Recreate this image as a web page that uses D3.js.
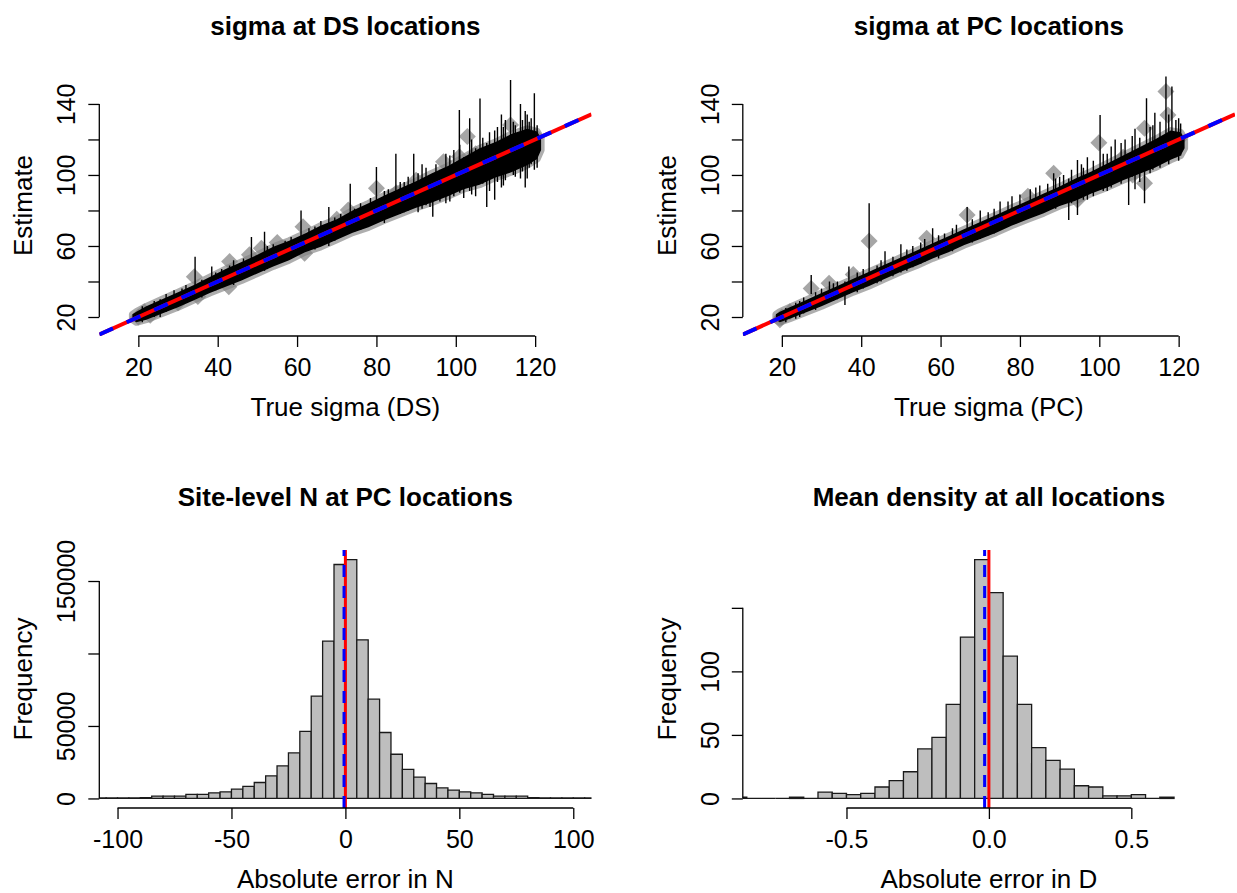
<!DOCTYPE html>
<html>
<head>
<meta charset="utf-8">
<script src="https://cdnjs.cloudflare.com/ajax/libs/d3/7.8.5/d3.min.js"></script>
<style>
  body { margin: 0; background: #fff; }
  svg { display: block; }
</style>
</head>
<body>
<svg id="chart" width="1237" height="893"></svg>
<script>
// values

// sigma at DS locations: dense band of CIs (envelope), long CI spikes, outlying point estimates
var dsBandX  = [18.5, 19.5, 22, 26, 30, 34, 38, 42, 46, 50, 54, 58, 62, 66, 70, 74, 78, 82, 86, 90, 94, 98, 102, 106, 110, 114, 118, 120.5, 121.5];
var dsBandLo = [18.5, 17, 18.5, 22, 25.5, 29.5, 33.5, 37, 40.5, 44.5, 48.5, 52, 56.5, 59.5, 63.5, 67.5, 70.5, 74.5, 78, 81.5, 84.5, 88, 92, 94.5, 98.5, 101.5, 105.5, 109, 114];
var dsBandHi = [21.5, 23, 26, 30, 34, 38, 42.5, 47, 51, 55, 59.5, 63, 67, 71.5, 75, 80, 84, 88.5, 92.5, 96.5, 101, 105, 110, 115, 118.5, 123, 126, 124.5, 120.5];
var dsSpikeX  = [21, 24, 27, 29, 32, 34.3, 36, 38.5, 41, 44, 46.5, 48.5, 51.8, 54, 57, 61, 63, 66, 68, 71, 73.4, 76, 80, 82, 84.9, 87, 89.4, 91.5, 94.2, 96, 97.5, 100.9, 102, 103.5, 105, 106.1, 107.8, 109.8, 111.5, 112.5, 113.8, 115, 116.3, 117.5, 118.5, 119.8,
                 86, 88, 90.5, 92.5, 93.5, 95, 98.5, 99.5, 101, 104, 106.8, 108.5, 110.5, 112, 114.5, 116.8, 118, 119, 120.5, 25.5, 31, 39.5, 43, 52.5, 58.5, 64.5, 69.5, 74.5, 78.5, 83];
var dsSpikeLo = [17, 20, 23, 25, 28, 38, 31, 36, 37, 38, 42, 44, 46, 49, 52, 56, 58, 61, 60, 65, 68, 69, 74, 73, 78, 79, 82, 81, 76.5, 85, 84, 92, 87, 91, 88, 96, 82, 86, 93, 97, 105, 99, 98, 93, 104, 103,
                 78, 80, 79, 83, 82, 86, 85, 88, 90, 89, 95, 91, 96, 94, 100, 102, 98, 106, 104, 20, 27, 35, 39, 47, 53, 58, 63, 68, 72, 76];
var dsSpikeHi = [26, 29, 33, 35, 38, 54, 41, 48.5, 47, 52, 53, 65, 68, 61, 63, 80, 70, 74, 82, 78, 95, 84, 104.5, 91, 112, 96, 112, 106, 100, 103, 112, 136.6, 110, 132, 115, 143, 118, 125, 134, 131, 153.5, 128, 140, 136, 130, 146,
                 96, 99, 101, 104, 99, 106, 111, 114, 117, 120, 121, 124, 127, 127, 130, 131, 134, 132, 128, 30, 36, 45, 49, 60, 65, 71, 76, 81, 87, 92];
var dsPtX = [20, 21.5, 23, 30, 34.1, 35, 42.8, 43, 48, 51, 55, 61.5, 61.9, 70, 72.9, 80, 85, 90, 96.9, 100.9, 102.9, 105, 111.3, 113.8, 115, 118, 120];
var dsPtY = [20, 23, 21, 28, 42.7, 31.5, 37, 51.2, 55, 58.7, 62, 70.9, 55.9, 75, 80.3, 92.5, 90, 97, 107.5, 110.3, 121.6, 112, 102.8, 128.2, 108, 118, 122];
var dsFit = [0, 1];   // intercept, slope of the blue dashed line

// sigma at PC locations
var pcBandX  = [18.5, 19.5, 22, 26, 30, 34, 38, 42, 46, 50, 54, 58, 62, 66, 70, 74, 78, 82, 86, 90, 94, 98, 102, 106, 110, 114, 118, 120.5, 121.5];
var pcBandLo = [18.5, 17, 19, 22.5, 26, 30, 34, 37.5, 41.5, 45.5, 49, 53, 56.5, 60.5, 64, 67.5, 71.5, 75, 78.5, 82.5, 85.5, 89.5, 93, 97, 100.5, 104, 108.5, 111, 115];
var pcBandHi = [21.5, 23, 25.5, 29.5, 33.5, 37.5, 41.5, 45.5, 49.5, 53.5, 57.5, 61.5, 65.5, 69.5, 73.5, 77.5, 81.5, 85.5, 89.5, 93.5, 98, 102, 106.5, 111, 115.5, 120, 125, 124, 120.5];
var pcSpikeX  = [21, 23.5, 25.5, 27.4, 30, 32, 34, 35.9, 36.9, 39, 42, 44, 46, 48, 50, 53, 56, 58, 61, 64, 66.7, 70, 72, 75, 78, 80, 82.6, 85, 88.5, 90, 92.3, 94.5, 96, 97, 100.2, 102, 104, 107.4, 109, 111.4, 111.9, 114, 116.8, 118.3, 120,
                 84, 87, 89, 91, 93, 95.5, 98.5, 101, 103, 105.5, 106.5, 108.3, 110.2, 112.8, 113.5, 115.3, 117.5, 119.3, 120.5, 24.5, 28.5, 33, 40.5, 45, 51.5, 55, 59.5, 63, 68, 73.5, 77];
var pcSpikeLo = [17, 19, 22, 33, 27, 29, 30, 26.8, 33, 34, 42.7, 39, 42, 43, 45, 48, 51, 54, 56, 60, 70, 64, 66, 70, 72, 74, 78, 78, 82, 83, 74.6, 77.5, 86, 86, 95, 91, 96, 83.1, 92, 84, 104, 105, 112, 110, 108,
                 77, 80, 81, 85, 84, 87, 88, 91, 93, 95, 98, 99, 96, 101, 103, 104, 106, 110, 111, 20, 24, 29, 36, 40, 46, 50, 53, 57, 62, 67, 71];
var pcSpikeHi = [25, 28, 31, 43.7, 36, 40, 40, 40, 48.4, 45, 84, 49, 57, 54, 61, 60, 64, 70, 67, 72, 82, 80, 79, 85, 88, 89, 92, 94, 101, 99, 98, 108.4, 104, 110, 133.8, 112, 120, 112, 126, 115, 143.2, 135, 155.4, 149.8, 132,
                 93, 95, 98, 100, 103, 106, 108, 112, 116, 118, 120, 122, 121, 127, 128, 130, 134, 131, 129, 29, 34, 39, 47, 52, 58, 62, 66, 70, 75, 81, 85];
var pcPtX = [19.5, 20, 22, 27.4, 31.9, 38, 42, 56.5, 66.7, 82, 88.5, 94.5, 99.9, 106, 108.4, 111.4, 111.4, 114, 116.8, 117.3, 120];
var pcPtY = [18.5, 20, 23, 36.1, 39, 44, 62.8, 64.3, 77.5, 88, 101, 85.9, 118.2, 110, 100, 126.3, 95.3, 113, 147, 133.8, 120];
var pcFit = [0, 1];

// site-level N: histogram of absolute error
var nBreaks = [-110, -105, -100, -95, -90, -85, -80, -75, -70, -65, -60, -55, -50, -45, -40, -35, -30, -25, -20, -15, -10, -5, 0,
               5, 10, 15, 20, 25, 30, 35, 40, 45, 50, 55, 60, 65, 70, 75, 80, 85, 90, 95, 100, 105, 110];
var nCounts = [300, 300, 350, 400, 500, 1600, 1600, 1600, 2800, 2800, 3900, 4600, 6400, 8300, 11000, 15600, 22500, 31400, 46200, 70600, 108500, 161400,
               164800, 109400, 68500, 45500, 30500, 20000, 14700, 10300, 7300, 5700, 4600, 3900, 2800, 1600, 1600, 1600, 500, 400, 350, 300, 300, 300];
var nMeanErr = -0.6;

// mean density: histogram of absolute error
var dBreaks = [-0.9, -0.85, -0.8, -0.75, -0.7, -0.65, -0.6, -0.55, -0.5, -0.45, -0.4, -0.35, -0.3, -0.25, -0.2, -0.15, -0.1, -0.05, 0,
               0.05, 0.1, 0.15, 0.2, 0.25, 0.3, 0.35, 0.4, 0.45, 0.5, 0.55, 0.6, 0.65];
var dCounts = [1, 0, 0, 0, 1, 0, 5, 4, 3, 4, 9, 14, 21, 39, 48, 74, 127, 188,
               162, 112, 74, 40, 30, 23, 10, 9, 2, 2, 3, 0, 1];
var dMeanErr = -0.015;

// axis ticks and labels (R drops some labels where they would crowd)
var sigmaXTicks = [20, 40, 60, 80, 100, 120];
var sigmaYTicks = [20, 40, 60, 80, 100, 120, 140];
var sigmaYLabels = ["20", "", "60", "", "100", "", "140"];
var nXTicks = [-100, -50, 0, 50, 100];
var nXLabels = ["-100", "-50", "0", "50", "100"];
var nYTicks = [0, 50000, 100000, 150000];
var nYLabels = ["0", "50000", "", "150000"];
var dXTicks = [-0.5, 0, 0.5];
var dXLabels = ["-0.5", "0.0", "0.5"];
var dYTicks = [0, 50, 100, 150];
var dYLabels = ["0", "50", "100", ""];

var FONT = "'Liberation Sans', Arial, Helvetica, sans-serif";

var svg = d3.select("#chart");
var defs = svg.append("defs");

function clipFor(name, p) {
    defs.append("clipPath").attr("id", name)
      .append("rect")
        .attr("x", p.left).attr("y", p.top)
        .attr("width", p.right - p.left).attr("height", p.bottom - p.top);
    return "url(#" + name + ")";
}

function xAxis(x, p, ticks, labels, title) {
    var g = svg.append("g").attr("transform", "translate(0," + p.bottom + ")");
    g.call(d3.axisBottom(x).tickValues(ticks).tickSizeInner(11).tickSizeOuter(0)
        .tickFormat(function(d, i) { return labels[i]; }));
    g.attr("font-family", FONT).attr("font-size", 25);
    g.select(".domain").remove();
    g.append("line")
        .attr("x1", x(ticks[0])).attr("x2", x(ticks[ticks.length - 1]))
        .attr("stroke", "#000").attr("stroke-width", 1.3);
    g.selectAll(".tick line").attr("stroke", "#000").attr("stroke-width", 1.3);
    g.selectAll(".tick text").attr("y", 40).attr("dy", null).attr("fill", "#000");

    svg.append("text")
        .attr("x", (p.left + p.right) / 2).attr("y", p.bottom + 80)
        .attr("text-anchor", "middle")
        .attr("font-family", FONT).attr("font-size", 26)
        .text(title);
}

function yAxis(y, p, ticks, labels, title) {
    var g = svg.append("g").attr("transform", "translate(" + p.left + ",0)");
    g.call(d3.axisLeft(y).tickValues(ticks).tickSizeInner(11).tickSizeOuter(0)
        .tickFormat(function(d, i) { return labels[i]; }));
    g.attr("font-family", FONT).attr("font-size", 25);
    g.select(".domain").remove();
    g.append("line")
        .attr("y1", y(ticks[0])).attr("y2", y(ticks[ticks.length - 1]))
        .attr("stroke", "#000").attr("stroke-width", 1.3);
    g.selectAll(".tick line").attr("stroke", "#000").attr("stroke-width", 1.3);
    g.selectAll(".tick text")
        .attr("x", null).attr("dy", null)
        .attr("transform", "translate(-24,0) rotate(-90)")
        .attr("text-anchor", "middle")
        .attr("fill", "#000");

    svg.append("text")
        .attr("transform", "translate(" + (p.left - 67) + "," + ((p.top + p.bottom) / 2) + ") rotate(-90)")
        .attr("text-anchor", "middle")
        .attr("font-family", FONT).attr("font-size", 26)
        .text(title);
}

function mainTitle(p, yPos, txt) {
    svg.append("text")
        .attr("x", (p.left + p.right) / 2).attr("y", yPos)
        .attr("text-anchor", "middle")
        .attr("font-family", FONT).attr("font-size", 26).attr("font-weight", "bold")
        .text(txt);
}

// scatter of estimate vs truth, with CIs
function sigmaPanel(p, d) {
    var x = d3.scaleLinear().domain([10.16, 134.2]).range([p.left, p.right]);
    var y = d3.scaleLinear().domain([9.3, 156.3]).range([p.bottom, p.top]);
    var plot = svg.append("g").attr("clip-path", clipFor(p.id, p));

    var band = d.bandX.map(function(v, i) { return { x: v, lo: d.bandLo[i], hi: d.bandHi[i] }; });
    var area = d3.area()
        .x(function(b) { return x(b.x); })
        .y0(function(b) { return y(b.lo); })
        .y1(function(b) { return y(b.hi); });

    // faint grey rim from the overlapping diamonds along the band
    plot.append("path").datum(band)
        .attr("d", area)
        .attr("fill", "none")
        .attr("stroke", "rgba(120,120,120,0.6)")
        .attr("stroke-width", 7)
        .attr("stroke-linejoin", "round");

    plot.selectAll(".pt")
        .data(d.ptX.map(function(v, i) { return [v, d.ptY[i]]; }))
        .enter().append("path")
        .attr("class", "pt")
        .attr("transform", function(q) { return "translate(" + x(q[0]) + "," + y(q[1]) + ")"; })
        .attr("d", "M0,-8.5L8.5,0L0,8.5L-8.5,0Z")
        .attr("fill", "rgba(128,128,128,0.7)");

    // the CIs are so dense they merge into a solid band
    plot.append("path").datum(band)
        .attr("d", area)
        .attr("fill", "#000");

    plot.selectAll(".ci")
        .data(d.spikeX.map(function(v, i) { return [v, d.spikeLo[i], d.spikeHi[i]]; }))
        .enter().append("line")
        .attr("class", "ci")
        .attr("x1", function(q) { return x(q[0]); })
        .attr("x2", function(q) { return x(q[0]); })
        .attr("y1", function(q) { return y(q[1]); })
        .attr("y2", function(q) { return y(q[2]); })
        .attr("stroke", "#000").attr("stroke-width", 1.4);

    var dom = x.domain();
    plot.append("line")
        .attr("x1", x(dom[0])).attr("y1", y(dom[0]))
        .attr("x2", x(dom[1])).attr("y2", y(dom[1]))
        .attr("stroke", "#ff0000").attr("stroke-width", 4);
    plot.append("line")
        .attr("x1", x(dom[0])).attr("y1", y(d.fit[0] + d.fit[1] * dom[0]))
        .attr("x2", x(dom[1])).attr("y2", y(d.fit[0] + d.fit[1] * dom[1]))
        .attr("stroke", "#0000ff").attr("stroke-width", 4)
        .attr("stroke-dasharray", "15,15");

    xAxis(x, p, sigmaXTicks, sigmaXTicks.map(String), d.xTitle);
    yAxis(y, p, sigmaYTicks, sigmaYLabels, "Estimate");
    mainTitle(p, 35, d.title);
}

function histPanel(p, d) {
    var x = d3.scaleLinear().domain(d.xDomain).range([p.left, p.right]);
    var ymax = d3.max(d.counts);
    var y = d3.scaleLinear().domain([-0.04 * ymax, 1.04 * ymax]).range([p.bottom, p.top]);
    var plot = svg.append("g").attr("clip-path", clipFor(p.id, p));

    // paths rather than rects, so empty bins still show their outline on the baseline
    plot.selectAll(".bar")
        .data(d.counts)
        .enter().append("path")
        .attr("class", "bar")
        .attr("d", function(c, i) {
            var x0 = x(d.breaks[i]), x1 = x(d.breaks[i + 1]);
            return "M" + x0 + "," + y(0) + "V" + y(c) + "H" + x1 + "V" + y(0) + "Z";
        })
        .attr("fill", "#bebebe")
        .attr("stroke", "#1a1a1a")
        .attr("stroke-width", 1.3);

    plot.append("line")
        .attr("x1", x(0)).attr("x2", x(0))
        .attr("y1", p.bottom).attr("y2", p.top)
        .attr("stroke", "#ff0000").attr("stroke-width", 3);
    plot.append("line")
        .attr("x1", x(d.mean)).attr("x2", x(d.mean))
        .attr("y1", p.bottom).attr("y2", p.top)
        .attr("stroke", "#0000ff").attr("stroke-width", 3)
        .attr("stroke-dasharray", "12,9");

    xAxis(x, p, d.xTicks, d.xLabels, d.xTitle);
    yAxis(y, p, d.yTicks, d.yLabels, "Frequency");
    mainTitle(p, 506, d.title);
}

// panel regions (plot area in pixels)
var TL = { id: "c1", left: 99.3, right: 591.5, top: 75, bottom: 336 };
var TR = { id: "c2", left: 742.8, right: 1235, top: 75, bottom: 336 };
var BL = { id: "c3", left: 99.3, right: 591.5, top: 550, bottom: 808 };
var BR = { id: "c4", left: 742.8, right: 1235, top: 550, bottom: 808 };

sigmaPanel(TL, {
    bandX: dsBandX, bandLo: dsBandLo, bandHi: dsBandHi,
    spikeX: dsSpikeX, spikeLo: dsSpikeLo, spikeHi: dsSpikeHi,
    ptX: dsPtX, ptY: dsPtY, fit: dsFit,
    title: "sigma at DS locations", xTitle: "True sigma (DS)"
});
sigmaPanel(TR, {
    bandX: pcBandX, bandLo: pcBandLo, bandHi: pcBandHi,
    spikeX: pcSpikeX, spikeLo: pcSpikeLo, spikeHi: pcSpikeHi,
    ptX: pcPtX, ptY: pcPtY, fit: pcFit,
    title: "sigma at PC locations", xTitle: "True sigma (PC)"
});
histPanel(BL, {
    breaks: nBreaks, counts: nCounts, mean: nMeanErr, xDomain: [-108, 108],
    xTicks: nXTicks, xLabels: nXLabels, yTicks: nYTicks, yLabels: nYLabels,
    title: "Site-level N at PC locations", xTitle: "Absolute error in N"
});
histPanel(BR, {
    breaks: dBreaks, counts: dCounts, mean: dMeanErr, xDomain: [-0.864, 0.864],
    xTicks: dXTicks, xLabels: dXLabels, yTicks: dYTicks, yLabels: dYLabels,
    title: "Mean density at all locations", xTitle: "Absolute error in D"
});
</script>
</body>
</html>
